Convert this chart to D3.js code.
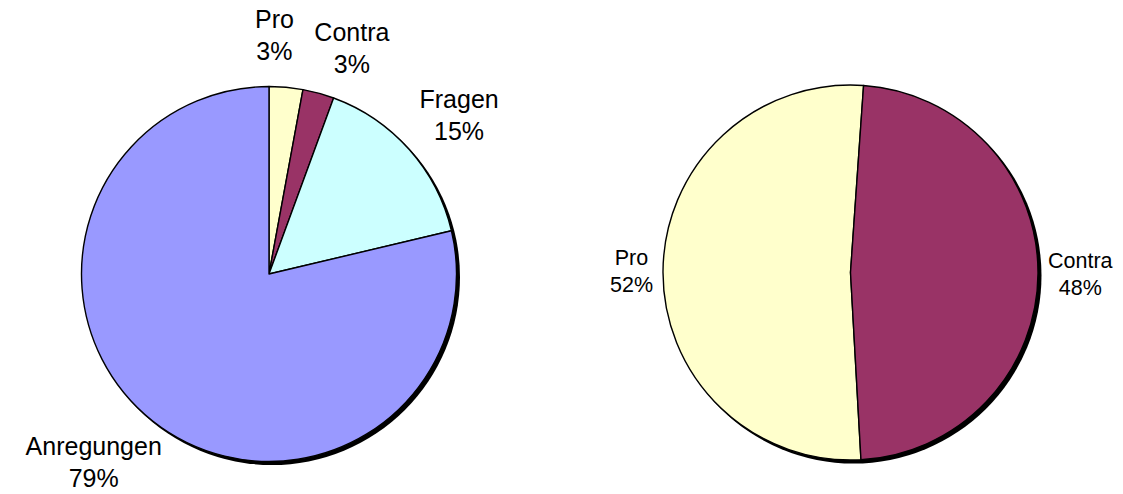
<!DOCTYPE html>
<html>
<head>
<meta charset="utf-8">
<script src="https://cdn.jsdelivr.net/npm/d3@7"></script>
<style>
  body { margin: 0; background: #fff; }
  text { font-family: "Liberation Sans", Arial, sans-serif; fill: #000; }
</style>
</head>
<body>
<div class="diagram"></div>
<script>
// left chart: all submissions
let leftCats = ['Pro', 'Contra', 'Fragen', 'Anregungen'];
let leftVals = [2.9, 2.7, 15.7, 78.7];
let leftLabels = ['3%', '3%', '15%', '79%'];
let leftColors = ['#FFFFCC', '#993366', '#CCFFFF', '#9999FF'];

// right chart: pro vs contra
let rightCats = ['Pro', 'Contra'];
let rightVals = [52, 48];
let rightLabels = ['52%', '48%'];
let rightColors = ['#FFFFCC', '#993366'];

var width = 1123, height = 494;
var capH = 0.716; // Arial cap height / em

let svgDoc = d3.select('.diagram')
    .append('svg')
    .attr('width', width)
    .attr('height', height)

function drawPie(opts) {
    let g = svgDoc.append('g')
        .attr('transform', 'translate(' + opts.cx + ',' + opts.cy + ')')

    let data = opts.vals.map((v, i) => ({cat: opts.cats[i], val: v, label: opts.labels[i], color: opts.colors[i]}))
    let pie = d3.pie()
        .value(d => d.val)
        .sort(null)
        .startAngle(opts.start)
        .endAngle(opts.start + 2 * Math.PI)
    let arcs = pie(data)
    let arc = d3.arc().innerRadius(0).outerRadius(opts.r)

    // shadow
    g.append('circle')
        .attr('cx', 3)
        .attr('cy', 3)
        .attr('r', opts.r + 0.5)
        .attr('fill', 'black')

    g.selectAll('.slice')
        .data(arcs)
        .enter()
        .append('path')
        .classed('slice', true)
        .attr('d', arc)
        .attr('fill', d => d.data.color)
        .attr('stroke', 'black')
        .attr('stroke-width', 1.4)
        .attr('stroke-linejoin', 'round')

    // labels: measure, place outside the rim, push apart if they collide
    let lr = opts.r + opts.gap
    let labels = arcs.map(d => {
        let t = g.append('text')
            .attr('text-anchor', 'middle')
            .style('font-size', opts.fs + 'px')
        t.append('tspan').attr('x', 0).attr('y', 0).text(d.data.cat)
        t.append('tspan').attr('x', 0).attr('y', opts.lh).text(d.data.label)
        let w = t.node().getBBox().width
        let h = opts.lh + capH * opts.fs
        return {t: t, w: w, h: h, a: (d.startAngle + d.endAngle) / 2}
    })
    function box(l) {
        let px = lr * Math.sin(l.a), py = -lr * Math.cos(l.a)
        let x = px + (l.w / 2) * Math.sin(l.a)
        let y = py - (l.h / 2) * Math.cos(l.a)
        return {x0: x - l.w / 2, x1: x + l.w / 2, y0: y - l.h / 2, y1: y + l.h / 2, x: x, y: y}
    }
    let pad = 20
    for (let it = 0; it < 400; it++) {
        let moved = false
        for (let i = 0; i < labels.length - 1; i++) {
            let b1 = box(labels[i]), b2 = box(labels[i + 1])
            if (b1.x1 + pad > b2.x0 && b2.x1 + pad > b1.x0 && b1.y1 > b2.y0 && b2.y1 > b1.y0) {
                labels[i].a -= 0.004
                labels[i + 1].a += 0.004
                moved = true
            }
        }
        if (!moved) break
    }
    labels.forEach(l => {
        let b = box(l)
        // first baseline sits cap-height below the box top
        l.t.attr('transform', 'translate(' + b.x + ',' + (b.y0 + capH * opts.fs) + ')')
    })
}

drawPie({
    cats: leftCats, vals: leftVals, labels: leftLabels, colors: leftColors,
    cx: 269, cy: 274, r: 187.5, start: 0, gap: 27, fs: 25, lh: 32
})

drawPie({
    cats: rightCats, vals: rightVals, labels: rightLabels, colors: rightColors,
    cx: 850.5, cy: 272.5, r: 187.5, start: 176.8 * Math.PI / 180, gap: 10, fs: 21.5, lh: 27
})
</script>
</body>
</html>
